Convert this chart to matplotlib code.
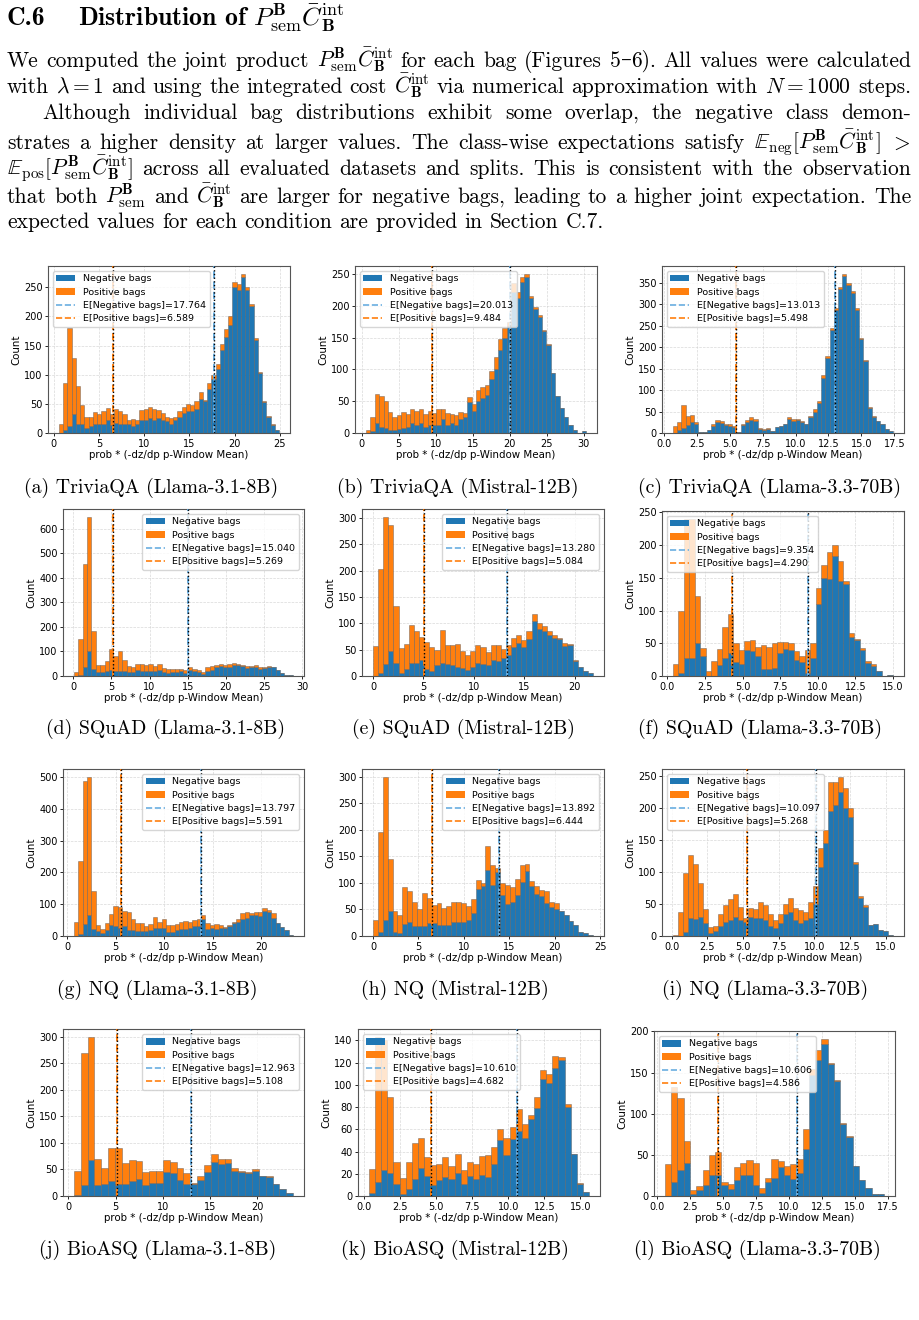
import numpy as np
import matplotlib
matplotlib.use("Agg")
import matplotlib.pyplot as plt
from matplotlib.patches import Patch
from matplotlib.lines import Line2D

plt.rcParams['mathtext.fontset'] = 'cm'
plt.rcParams['axes.unicode_minus'] = False

# ---------------- data (bin counts) ----------------
# (a) TriviaQA (Llama-3.1-8B)
lo_a, hi_a = 0.6, 24.9
neg_a = [0,5,12,32,16,16,8,12,16,15,16,22,13,17,16,16,16,12,15,22,22,25,23,26,22,20,16,22,27,35,38,38,42,58,55,76,93,110,142,165,185,250,245,268,245,218,160,103,53,28,14,5]
pos_a = [15,80,168,96,64,32,19,15,20,18,22,21,19,25,22,16,7,12,7,18,20,20,19,14,13,7,9,5,10,10,12,10,13,12,2,9,7,8,10,13,15,10,10,5,5,4,3,2,2,2,1,0]
# (b) TriviaQA (Mistral-12B)
lo_b, hi_b = 0.6, 30.3
neg_b = [0,3,15,10,8,5,5,6,8,10,15,13,15,10,12,13,13,22,13,15,12,22,25,48,35,50,55,60,85,100,130,150,168,222,212,238,245,212,195,183,160,138,95,58,40,25,12,5,0,3]
pos_b = [5,22,47,48,42,28,20,22,25,20,22,22,22,20,23,19,25,16,19,15,16,11,7,9,10,18,17,15,13,20,18,15,7,13,10,7,5,3,3,2,2,2,0,0,0,0,0,0,0,0]
# (c) TriviaQA (Llama-3.3-70B)
lo_c, hi_c = 0.7, 17.4
neg_c = [0,8,12,18,26,20,3,3,7,17,25,23,18,16,14,3,18,25,30,27,10,8,10,5,15,16,20,33,28,30,25,20,37,50,70,128,175,240,285,335,365,345,325,285,218,168,58,38,27,20,10,5]
pos_c = [17,17,53,22,17,5,0,0,1,3,5,5,4,4,3,0,4,5,8,6,2,2,2,0,0,1,2,4,4,3,3,2,3,5,5,7,5,5,5,5,5,5,5,5,2,2,2,2,0,0,0,0]
# (d) SQuAD (Llama-3.1-8B)
lo_d, hi_d = 0.1, 28.8
neg_d = [0,5,35,103,30,15,18,22,25,22,22,20,15,18,25,22,22,22,20,25,17,12,18,15,20,12,25,20,18,10,22,25,35,40,38,38,45,45,42,32,35,38,30,33,38,35,25,12,5,3]
pos_d = [15,145,423,545,152,30,27,40,87,60,78,45,25,17,25,26,23,26,20,23,15,18,10,15,8,13,10,8,7,8,13,15,10,8,7,10,8,5,3,8,5,5,5,5,2,3,0,0,0,0]
# (e) SQuAD (Mistral-12B)
lo_e, hi_e = 0.0, 21.8
neg_e = [0,5,22,48,25,5,13,25,25,30,13,10,20,25,23,20,17,15,12,17,25,22,20,30,28,35,40,55,62,55,70,105,90,85,78,72,70,57,58,28,18,10,5]
pos_e = [57,198,280,239,107,48,47,71,60,45,52,45,30,63,35,38,43,33,28,31,33,33,25,28,30,17,18,17,16,13,16,13,10,10,7,6,2,5,2,2,0,0,0]
# (f) SQuAD (Llama-3.3-70B)
lo_f, hi_f = 0.37, 15.0
neg_f = [0,5,28,28,50,30,0,0,17,28,35,22,18,40,38,30,10,10,12,35,42,40,25,22,5,28,110,150,148,183,145,140,60,55,40,20,15,8,0,2]
pos_f = [18,95,212,212,72,13,8,23,25,47,60,28,22,13,17,15,37,35,38,17,10,10,13,8,35,22,25,20,42,17,30,5,5,2,3,3,3,0,0,0]
# (g) NQ (Llama-3.1-8B)
lo_g, hi_g = 0.7, 23.3
neg_g = [0,5,38,67,22,15,10,20,35,30,25,30,20,18,15,15,15,20,25,25,25,12,12,20,22,22,25,32,32,52,22,25,22,25,25,33,40,45,55,58,65,65,62,78,75,58,40,28,20,3]
pos_g = [45,230,449,433,120,20,12,22,35,63,67,50,55,37,25,25,15,18,35,20,28,23,23,18,21,25,20,18,20,15,18,10,15,10,3,2,5,10,17,18,7,12,13,10,7,14,0,0,0,0]
# (h) NQ (Mistral-12B)
lo_h, hi_h = 0.0, 24.2
neg_h = [0,8,30,47,8,5,22,27,18,18,18,25,25,20,20,20,27,27,27,30,43,88,95,125,97,120,78,60,65,78,102,122,95,80,75,62,55,50,48,40,28,20,8,5,2]
pos_h = [30,189,270,98,39,35,70,58,47,32,64,47,33,42,32,37,38,38,35,27,27,17,5,45,36,8,22,37,28,30,31,13,8,15,12,23,10,13,0,0,0,0,0,0,0]
# (i) NQ (Llama-3.3-70B)
lo_i, hi_i = 0.1, 15.5
neg_i = [0,0,7,28,27,30,20,5,8,15,22,25,30,25,22,30,28,28,25,15,12,20,35,38,25,20,25,28,50,107,145,195,205,225,200,185,112,60,45,17,18,10,8,2]
pos_i = [2,37,91,99,85,52,22,9,7,20,26,32,35,20,6,13,14,25,23,20,13,15,15,22,18,20,12,25,28,30,20,45,35,23,30,15,3,3,3,0,0,0,0,0]
# (j) BioASQ (Llama-3.1-8B)
lo_j, hi_j = 0.6, 23.8
neg_j = [2,20,67,20,22,28,23,23,28,32,20,25,24,45,43,30,23,22,30,45,65,60,63,48,46,43,48,37,35,23,13,5]
pos_j = [46,250,233,50,30,62,67,39,40,34,25,22,24,23,22,22,20,3,7,13,15,10,7,5,1,2,2,1,3,0,0,0]
# (k) BioASQ (Mistral-12B)
lo_k, hi_k = 0.35, 15.6
neg_k = [3,13,23,21,11,2,6,15,25,18,10,14,17,15,21,11,18,15,19,17,29,50,37,51,58,52,69,79,105,102,115,122,80,38,11,4]
pos_k = [21,130,117,68,20,14,25,33,27,17,18,15,18,12,17,12,13,14,17,20,15,10,15,11,20,13,4,10,8,8,11,3,3,0,1,0]
# (l) BioASQ (Llama-3.3-70B)
lo_l, hi_l = 0.6, 17.2
neg_l = [0,17,31,40,3,7,13,26,26,13,9,19,26,26,13,4,17,22,35,26,21,28,57,147,165,185,160,140,88,72,37,20,10,3,2]
pos_l = [39,115,88,27,4,5,19,24,28,4,6,16,14,18,27,6,5,23,8,11,18,17,25,7,13,6,2,1,1,1,0,0,0,0,0]

mean_neg = [17.764, 20.013, 13.013, 15.040, 13.280, 9.354, 13.797, 13.892, 10.097, 12.963, 10.610, 10.606]
mean_pos = [6.589, 9.484, 5.498, 5.269, 5.084, 4.290, 5.591, 6.444, 5.268, 5.108, 4.682, 4.586]
captions = ["(a) TriviaQA (Llama-3.1-8B)", "(b) TriviaQA (Mistral-12B)", "(c) TriviaQA (Llama-3.3-70B)",
            "(d) SQuAD (Llama-3.1-8B)", "(e) SQuAD (Mistral-12B)", "(f) SQuAD (Llama-3.3-70B)",
            "(g) NQ (Llama-3.1-8B)", "(h) NQ (Mistral-12B)", "(i) NQ (Llama-3.3-70B)",
            "(j) BioASQ (Llama-3.1-8B)", "(k) BioASQ (Mistral-12B)", "(l) BioASQ (Llama-3.3-70B)"]
xlabel = "prob * (-dz/dp p-Window Mean)"
ylabel = "Count"

neg_all = [neg_a, neg_b, neg_c, neg_d, neg_e, neg_f, neg_g, neg_h, neg_i, neg_j, neg_k, neg_l]
pos_all = [pos_a, pos_b, pos_c, pos_d, pos_e, pos_f, pos_g, pos_h, pos_i, pos_j, pos_k, pos_l]
ranges = [(lo_a, hi_a), (lo_b, hi_b), (lo_c, hi_c), (lo_d, hi_d), (lo_e, hi_e), (lo_f, hi_f),
          (lo_g, hi_g), (lo_h, hi_h), (lo_i, hi_i), (lo_j, hi_j), (lo_k, hi_k), (lo_l, hi_l)]

# ---------------- layout ----------------
W, H = 920, 1320
fig = plt.figure(figsize=(W / 100, H / 100), dpi=100)
renderer = fig.canvas.get_renderer()

legend_locs = ['upper left', 'upper left', 'upper left',
               'upper right', 'upper right', 'upper left',
               'upper right', 'upper right', 'upper left',
               'upper right', 'upper left', 'upper left']
boxes = [(48, 266, 290, 433), (355, 266, 597, 433), (662, 266, 904, 433),
         (63, 509, 304, 676), (362, 509, 604, 676), (662, 511, 904, 676),
         (63, 769, 304, 936), (362, 769, 604, 936), (662, 769, 904, 936),
         (63, 1029, 304, 1196), (358, 1029, 600, 1196), (654, 1031, 895, 1196)]
cap_xy = [(151, 488), (458, 488), (770, 488),
          (166, 729), (463, 729), (760, 729),
          (157, 990), (455, 990), (765, 990),
          (158, 1250), (455, 1250), (757, 1250)]

C_NEG = '#1f77b4'
C_POS = '#ff7f0e'
C_NEG_LINE = '#6aaee0'
EDGE = (0.35, 0.35, 0.35, 0.6)
SERIF = 'cmr10'
TS = 7.0

for k in range(12):
    l, t, r, b = boxes[k]
    ax = fig.add_axes([l / W, 1 - b / H, (r - l) / W, (b - t) / H])
    neg = np.array(neg_all[k], dtype=float)
    pos = np.array(pos_all[k], dtype=float)
    lo, hi = ranges[k]
    edges = np.linspace(lo, hi, len(neg) + 1)
    widths = np.diff(edges)
    ax.bar(edges[:-1], neg, width=widths, align='edge', color=C_NEG,
           edgecolor=EDGE, linewidth=0.5, zorder=2)
    ax.bar(edges[:-1], pos, width=widths, bottom=neg, align='edge', color=C_POS,
           edgecolor=EDGE, linewidth=0.5, zorder=2)
    ax.axvline(mean_neg[k], color=C_NEG_LINE, linestyle='--', linewidth=1.4, zorder=3)
    ax.axvline(mean_neg[k], color='black', linestyle=':', linewidth=1.0, zorder=4)
    ax.axvline(mean_pos[k], color=C_POS, linestyle='--', linewidth=1.4, zorder=3)
    ax.axvline(mean_pos[k], color='black', linestyle=':', linewidth=1.0, zorder=4)
    ax.grid(True, color='#d0d0d0', linestyle='--', linewidth=0.5, alpha=0.8)
    ax.set_axisbelow(True)
    ax.tick_params(labelsize=TS, length=2.5, width=0.6, pad=1.5)
    for s in ax.spines.values():
        s.set_color('#555555')
        s.set_linewidth(0.8)
    ax.set_xlabel(xlabel, fontsize=7.4, labelpad=1)
    ax.set_ylabel(ylabel, fontsize=7.4, labelpad=2)
    handles = [Patch(facecolor=C_NEG, label='Negative bags'),
               Patch(facecolor=C_POS, label='Positive bags'),
               Line2D([], [], color=C_NEG_LINE, linestyle='--', linewidth=1.2,
                      label=f'E[Negative bags]={mean_neg[k]:.3f}'),
               Line2D([], [], color=C_POS, linestyle='--', linewidth=1.2,
                      label=f'E[Positive bags]={mean_pos[k]:.3f}')]
    ax.legend(handles=handles, loc=legend_locs[k], fontsize=6.8, framealpha=0.8,
              borderpad=0.4, labelspacing=0.45, handlelength=2.0)
    cx, cy = cap_xy[k]
    fig.text(cx / W, 1 - cy / H, captions[k], ha='center', va='center',
             fontsize=14.3, family=SERIF)

# ---------------- page text ----------------
PB = r'P^{\mathbf{B}}_{\mathrm{sem}}'
CB = r'\bar{C}^{\mathrm{int}}_{\mathbf{B}}'
BODY = 15.5


def text_width(parts, size):
    w = 0.0
    for s, fam in parts:
        t = fig.text(0, 0, s, fontsize=size, family=fam)
        w += t.get_window_extent(renderer).width
        t.remove()
    return w


def draw_parts(x, y, parts, size):
    for s, fam in parts:
        t = fig.text(x / W, 1 - y / H, s, fontsize=size, family=fam, va='baseline', ha='left')
        x += t.get_window_extent(renderer).width
    return x


def tokens(line):
    out, cur, inmath = [], '', False
    for ch in line:
        if ch == '$':
            inmath = not inmath
        if ch == ' ' and not inmath:
            if cur:
                out.append(cur)
            cur = ''
        else:
            cur += ch
    if cur:
        out.append(cur)
    return out


def as_parts(tok):
    if '\u2013' in tok:
        a, b = tok.split('\u2013')
        return [(a, SERIF), ('\u2013', 'DejaVu Serif'), (b, SERIF)]
    return [(tok, SERIF)]


def draw_line(x0, y, line, size, right=None):
    toks = [as_parts(tk) for tk in tokens(line)]
    widths = [text_width(p, size) for p in toks]
    space = text_width([('a b', SERIF)], size) - text_width([('ab', SERIF)], size)
    if right is not None and len(toks) > 1:
        space = (right - x0 - sum(widths)) / (len(toks) - 1)
    x = x0
    for p, w in zip(toks, widths):
        draw_parts(x, y, p, size)
        x += w + space


# section heading
fig.text(7 / W, 1 - 25 / H, 'C.6', fontsize=18.5, family='cmb10', va='baseline', ha='left')
fig.text(78 / W, 1 - 25 / H, 'Distribution of $' + PB + CB + '$', fontsize=18.5,
         family='cmb10', va='baseline', ha='left')

body = [
    (7, 67, 'We computed the joint product $' + PB + CB + '$ for each bag (Figures 5\u20136). All values were calculated', True),
    (7, 93, r'with $\lambda = 1$ and using the integrated cost $' + CB + r'$ via numerical approximation with $N = 1000$ steps.', True),
    (42, 119, 'Although individual bag distributions exhibit some overlap, the negative class demon-', True),
    (7, 149, r'strates a higher density at larger values. The class-wise expectations satisfy $\mathbb{E}_{\mathrm{neg}}[' + PB + CB + r']$ $>$', True),
    (7, 175, r'$\mathbb{E}_{\mathrm{pos}}[' + PB + CB + r']$ across all evaluated datasets and splits. This is consistent with the observation', True),
    (7, 203, 'that both $' + PB + '$ and $' + CB + '$ are larger for negative bags, leading to a higher joint expectation. The', True),
    (7, 228, 'expected values for each condition are provided in Section C.7.', False),
]
for x, y, s, just in body:
    draw_line(x, y, s, BODY, right=911 if just else None)

fig.savefig('out.png', dpi=100)
